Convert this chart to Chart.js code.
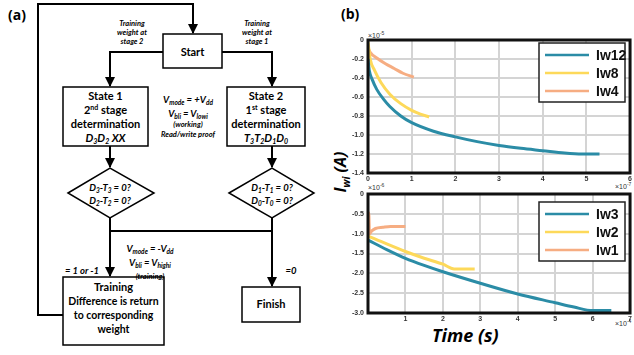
<!DOCTYPE html>
<html>
<head>
<meta charset="utf-8">
<script src="https://cdn.jsdelivr.net/npm/chart.js@4.4.1/dist/chart.umd.min.js"></script>
<style>
  body { margin: 0; background: #fff; width: 634px; height: 355px; position: relative; overflow: hidden; font-family: Lato, sans-serif; }
  .abs { position: absolute; }
  #chartTop { position: absolute; left: 320px; top: 30px; }
  #chartBot { position: absolute; left: 320px; top: 182px; }
  .lbl { position: absolute; font-weight: bold; color: #000; font-family: "Open Sans", sans-serif; }
  .exp { position: absolute; font-size: 7px; color: #333; font-family: "Liberation Sans", sans-serif; }
</style>
</head>
<body>

<svg class="abs" style="left:0;top:0" width="320" height="355" font-family="Lato, sans-serif">
  <defs>
    <marker id="arr" markerWidth="10" markerHeight="10" refX="9" refY="5" orient="auto" markerUnits="userSpaceOnUse">
      <path d="M0,0 L10,5 L0,10 z" fill="#000"/>
    </marker>
  </defs>
  <text x="8" y="20" font-size="14" font-weight="bold" font-family="Open Sans, sans-serif">(a)</text>
  <g stroke="#000" stroke-width="2" fill="none">
    <polyline points="63,315 38,315 38,4 193,4 193,33" marker-end="url(#arr)"/>
    <polyline points="163,52 110,52 110,86" marker-end="url(#arr)"/>
    <polyline points="222,52 272,52 272,86" marker-end="url(#arr)"/>
    <line x1="110" y1="146" x2="110" y2="167" marker-end="url(#arr)"/>
    <line x1="272" y1="146" x2="272" y2="167" marker-end="url(#arr)"/>
    <polyline points="110,218 110,231 272,231"/>
    <line x1="110" y1="231" x2="110" y2="276" marker-end="url(#arr)"/>
    <line x1="272" y1="218" x2="272" y2="286" marker-end="url(#arr)"/>
  </g>
  <g stroke="#000" stroke-width="1.5" fill="#fff">
    <rect x="163" y="34" width="59" height="34"/>
    <rect x="63" y="87" width="85" height="59"/>
    <rect x="227" y="87" width="78" height="59"/>
    <polygon points="68,193 110,168 154,193 110,218"/>
    <polygon points="229,193 272,168 314,193 272,218"/>
    <rect x="63" y="277" width="101" height="68"/>
    <rect x="242" y="287" width="58" height="35"/>
  </g>
  <g font-weight="bold" text-anchor="middle" font-size="11">
    <text x="192.5" y="56">Start</text>
    <text x="105.5" y="100">State 1</text>
    <text x="105.5" y="114">2<tspan font-size="7" dy="-4">nd</tspan><tspan dy="4"> stage</tspan></text>
    <text x="105.5" y="128">determination</text>
    <text x="105.5" y="142" font-style="italic">D<tspan font-size="7" dy="2">3</tspan><tspan dy="-2">D</tspan><tspan font-size="7" dy="2">2</tspan><tspan dy="-2"> XX</tspan></text>
    <text x="266" y="100">State 2</text>
    <text x="266" y="114">1<tspan font-size="7" dy="-4">st</tspan><tspan dy="4"> stage</tspan></text>
    <text x="266" y="128">determination</text>
    <text x="266" y="142" font-style="italic">T<tspan font-size="7" dy="2">3</tspan><tspan dy="-2">T</tspan><tspan font-size="7" dy="2">2</tspan><tspan dy="-2">D</tspan><tspan font-size="7" dy="2">1</tspan><tspan dy="-2">D</tspan><tspan font-size="7" dy="2">0</tspan></text>
    <text x="113.5" y="291">Training</text>
    <text x="113.5" y="305" font-size="10.5">Difference is return</text>
    <text x="113.5" y="319" font-size="10.5">to corresponding</text>
    <text x="113.5" y="333" font-size="10.5">weight</text>
    <text x="271" y="308">Finish</text>
  </g>
  <g font-weight="bold" font-style="italic" text-anchor="middle" font-size="9.5">
    <text x="110" y="191">D<tspan font-size="6.5" dy="2">3</tspan><tspan dy="-2">-T</tspan><tspan font-size="6.5" dy="2">3</tspan><tspan dy="-2"> = 0?</tspan></text>
    <text x="110" y="204">D<tspan font-size="6.5" dy="2">2</tspan><tspan dy="-2">-T</tspan><tspan font-size="6.5" dy="2">2</tspan><tspan dy="-2"> = 0?</tspan></text>
    <text x="272" y="191">D<tspan font-size="6.5" dy="2">1</tspan><tspan dy="-2">-T</tspan><tspan font-size="6.5" dy="2">1</tspan><tspan dy="-2"> = 0?</tspan></text>
    <text x="272" y="204">D<tspan font-size="6.5" dy="2">0</tspan><tspan dy="-2">-T</tspan><tspan font-size="6.5" dy="2">0</tspan><tspan dy="-2"> = 0?</tspan></text>
    <text x="188" y="103">V<tspan font-size="6.5" dy="2">mode</tspan><tspan dy="-2"> = +V</tspan><tspan font-size="6.5" dy="2">dd</tspan></text>
    <text x="188" y="117">V<tspan font-size="6.5" dy="2">bli</tspan><tspan dy="-2"> = V</tspan><tspan font-size="6.5" dy="2">lowi</tspan></text>
    <text x="150" y="252">V<tspan font-size="6.5" dy="2">mode</tspan><tspan dy="-2"> = -V</tspan><tspan font-size="6.5" dy="2">dd</tspan></text>
    <text x="150" y="266">V<tspan font-size="6.5" dy="2">bli</tspan><tspan dy="-2"> = V</tspan><tspan font-size="6.5" dy="2">highi</tspan></text>
    <text x="82" y="274">= 1 or -1</text>
    <text x="291" y="274">=0</text>
  </g>
  <g font-weight="bold" font-style="italic" text-anchor="middle" font-size="7.5">
    <text x="132" y="26">Training</text>
    <text x="132" y="35">weight at</text>
    <text x="132" y="44">stage 2</text>
    <text x="257" y="26">Training</text>
    <text x="257" y="35">weight at</text>
    <text x="257" y="44">stage 1</text>
    <text x="188" y="127">(working)</text>
    <text x="188" y="137">Read/write proof</text>
    <text x="150" y="279">(training)</text>
  </g>
</svg>

<div class="lbl" style="left:341px;top:4px;font-size:14px;">(b)</div>
<div class="lbl" style="left:312px;top:160px;font-size:16px;font-style:italic;transform:rotate(-90deg);transform-origin:center;width:58px;text-align:center;">I<sub style="font-size:10px">wi</sub> (A)</div>
<div class="lbl" style="left:432px;top:323px;font-size:18px;font-style:italic;">Time (s)</div>
<div class="exp" style="left:368px;top:30px;">×10<sup style="font-size:5px">-5</sup></div>
<div class="exp" style="left:615px;top:181px;">×10<sup style="font-size:5px">-7</sup></div>
<div class="exp" style="left:368px;top:182px;">×10<sup style="font-size:5px">-6</sup></div>
<div class="exp" style="left:615px;top:318px;">×10<sup style="font-size:5px">-4</sup></div>

<canvas id="chartTop" width="314" height="158"></canvas>
<canvas id="chartBot" width="314" height="150"></canvas>

<script>
// top panel (x in 1e-7 s, y in 1e-5 A)
var iw12X = [0, 0.03, 0.1, 0.2, 0.35, 0.5, 0.75, 1, 1.5, 2, 2.5, 3, 3.5, 4, 4.5, 4.9, 5.3];
var iw12Y = [-0.2, -0.32, -0.42, -0.52, -0.62, -0.7, -0.8, -0.87, -0.96, -1.02, -1.07, -1.11, -1.14, -1.165, -1.19, -1.2, -1.2];
var iw8X = [0, 0.05, 0.15, 0.3, 0.5, 0.75, 1, 1.2, 1.4];
var iw8Y = [-0.02, -0.2, -0.32, -0.45, -0.57, -0.67, -0.74, -0.78, -0.81];
var iw4X = [0, 0.05, 0.2, 0.4, 0.6, 0.8, 1.05];
var iw4Y = [-0.08, -0.13, -0.19, -0.25, -0.3, -0.35, -0.39];

// bottom panel (x in 1e-4 s, y in 1e-6 A)
var iw3X = [0, 0.5, 1, 1.5, 2, 3, 4, 5, 5.5, 6, 6.5];
var iw3Y = [-1.16, -1.4, -1.62, -1.8, -1.96, -2.25, -2.52, -2.74, -2.85, -2.94, -2.94];
var iw2X = [0, 0.5, 1, 1.5, 2, 2.3, 2.85];
var iw2Y = [-1.06, -1.26, -1.45, -1.62, -1.77, -1.89, -1.89];
var iw1X = [0, 0.02, 0.04, 0.1, 0.2, 0.4, 0.6, 1.0];
var iw1Y = [-1.0, -0.47, -1.0, -0.93, -0.87, -0.84, -0.82, -0.82];

var topTicksY = [0, -0.2, -0.4, -0.6, -0.8, -1, -1.2, -1.4];
var botTicksY = [0, -0.5, -1, -1.5, -2, -2.5, -3];

var colTeal = "#2b8ca6";
var colYellow = "#fdd95a";
var colOrange = "#f6ad82";

function pts(xs, ys) {
  return xs.map(function (x, i) { return { x: x, y: ys[i] }; });
}

function ds(label, xs, ys, color) {
  return { label: label, data: pts(xs, ys), borderColor: color, backgroundColor: color,
           borderWidth: 3, pointRadius: 0, tension: 0.35, cubicInterpolationMode: "monotone" };
}

// dark frame + legend box inside the plot
var frameLegend = {
  id: "frameLegend",
  afterDraw: function (chart) {
    var ctx = chart.ctx, a = chart.chartArea;
    ctx.save();
    ctx.strokeStyle = "#111";
    ctx.lineWidth = 3;
    ctx.beginPath();
    ctx.rect(a.left, a.top, a.right - a.left, a.bottom - a.top);
    ctx.stroke();
    var lg = chart.options.plugins.boxLegend;
    var bx = a.left + lg.x, by = a.top + lg.y;
    ctx.fillStyle = "#fff";
    ctx.fillRect(bx, by, 86, 59);
    ctx.lineWidth = 1.5;
    ctx.strokeStyle = "#222";
    ctx.strokeRect(bx, by, 86, 59);
    ctx.font = "bold 14px 'Liberation Sans', sans-serif";
    ctx.textBaseline = "middle";
    chart.data.datasets.forEach(function (d, i) {
      var yy = by + 12 + i * 18;
      ctx.strokeStyle = d.borderColor;
      ctx.lineWidth = 2.5;
      ctx.beginPath();
      ctx.moveTo(bx + 6, yy);
      ctx.lineTo(bx + 50, yy);
      ctx.stroke();
      ctx.fillStyle = "#111";
      ctx.fillText(d.label, bx + 57, yy + 1);
    });
    ctx.restore();
  }
};

function makeOpts(xmax, ticksY, ymin, legendPos, pad, xh, hideZero) {
  var tickFont = { size: 7, weight: "bold", family: "'Liberation Sans', sans-serif" };
  return {
    responsive: false,
    animation: false,
    layout: { padding: pad },
    plugins: { legend: { display: false }, tooltip: { enabled: false }, boxLegend: legendPos },
    scales: {
      x: {
        type: "linear", min: 0, max: xmax,
        afterFit: function (s) { s.height = xh; },
        ticks: { stepSize: 1, color: "#333", font: tickFont, padding: 2, maxRotation: 0,
                 callback: function (v) { return (hideZero && v === 0) ? "" : v; } },
        grid: { color: "#d4d4d4", lineWidth: 2, tickLength: 0 },
        border: { display: false }
      },
      y: {
        type: "linear", min: ymin, max: 0,
        afterFit: function (s) { s.width = 48; },
        afterBuildTicks: function (s) { s.ticks = ticksY.map(function (v) { return { value: v }; }); },
        ticks: { color: "#333", font: tickFont, padding: 4 },
        grid: { color: "#d4d4d4", lineWidth: 2, tickLength: 0 },
        border: { display: false }
      }
    }
  };
}

new Chart(document.getElementById("chartTop"), {
  type: "line",
  data: { datasets: [
    ds("Iw12", iw12X, iw12Y, colTeal),
    ds("Iw8", iw8X, iw8Y, colYellow),
    ds("Iw4", iw4X, iw4Y, colOrange)
  ] },
  options: makeOpts(6, topTicksY, -1.4, { x: 171, y: 3 }, { top: 10, right: 2, left: 0, bottom: 0 }, 15, false),
  plugins: [frameLegend]
});

new Chart(document.getElementById("chartBot"), {
  type: "line",
  data: { datasets: [
    ds("Iw3", iw3X, iw3Y, colTeal),
    ds("Iw2", iw2X, iw2Y, colYellow),
    ds("Iw1", iw1X, iw1Y, colOrange)
  ] },
  options: makeOpts(7, botTicksY, -3, { x: 171, y: 8 }, { top: 12, right: 2, left: 0, bottom: 0 }, 19, true),
  plugins: [frameLegend]
});
</script>
</body>
</html>
